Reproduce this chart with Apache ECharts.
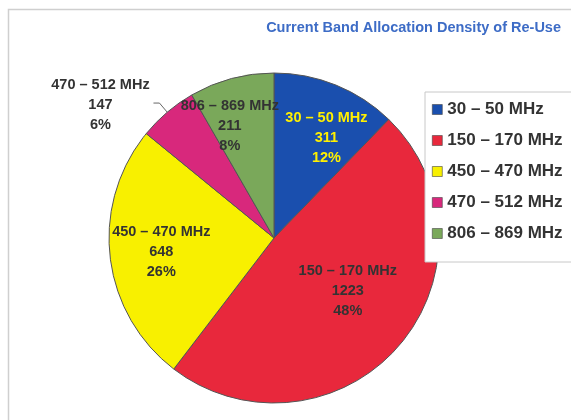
<!DOCTYPE html>
<html><head><meta charset="utf-8">
<script src="https://cdn.jsdelivr.net/npm/echarts@6/dist/echarts.min.js"></script>
<style>html,body{margin:0;padding:0;background:#fff;}#c{width:571px;height:420px;}</style>
</head><body><div id="c"></div>
<script>
const categories = ['30 – 50 MHz', '150 – 170 MHz', '450 – 470 MHz', '470 – 512 MHz', '806 – 869 MHz'];
const values = [311, 1223, 648, 147, 211];
const percents = ['12%', '48%', '26%', '6%', '8%'];
const colors = ['#1a4fae', '#e8283c', '#f8f000', '#d8287c', '#7aa85a'];

const chart = echarts.init(document.getElementById('c'));
const CX = 274, CY = 238, R = 165;
const font = '"Liberation Sans", Arial, sans-serif';
const boxFmt = p => '{w|' + p.name + '}\n{w|' + p.value + '}\n{w|' + p.data.pct + '}';

const mainData = categories.map((n, i) => ({ name: n, value: values[i], itemStyle: { color: colors[i] } }));
const labelData = categories.map((n, i) => {
  const d = { name: n, value: values[i], pct: percents[i] };
  if (i === 0) d.label = { color: '#fff000', offset: [8, 10] };
  if (i === 1) d.label = { offset: [-16, -24] };
  if (i === 2) d.label = { offset: [5, 0] };
  if (i === 3) {
    d.label = { position: 'outside', distanceToLabelLine: 3, offset: [0, 2], formatter: boxFmt };
    d.labelLine = { show: true, length: 12, length2: 6, lineStyle: { color: '#666', width: 1 } };
  }
  if (i === 4) {
    d.label = { position: 'outside', distanceToLabelLine: 3, offset: [0, 1], formatter: boxFmt };
    d.labelLine = { show: false, length: -48, length2: -39 };
  }
  return d;
});

chart.setOption({
  animation: false,
  backgroundColor: '#fff',
  graphic: [{ type: 'rect', shape: { x: 8.5, y: 9.5, width: 600, height: 450 }, style: { fill: 'none', stroke: '#cfcfcf', lineWidth: 1.5 }, silent: true }],
  title: {
    text: 'Current Band Allocation Density of Re-Use',
    right: 5, top: 15,
    textStyle: { color: '#3d6cc6', fontSize: 14.5, fontWeight: 'bold', fontFamily: font }
  },
  legend: {
    orient: 'vertical', left: 425, top: 92,
    padding: [9, 20, 20, 7],
    borderColor: '#c8c8c8', borderWidth: 1, backgroundColor: '#fff',
    itemWidth: 10, itemHeight: 10, itemGap: 14,
    icon: 'rect',
    itemStyle: { borderColor: '#444', borderWidth: 0.6 },
    textStyle: { color: '#333', fontSize: 17, fontWeight: 'bold', fontFamily: font },
    data: categories
  },
  series: [
    {
      type: 'pie', center: [CX, CY], radius: [0, R], startAngle: 90, clockwise: true,
      avoidLabelOverlap: false, silent: true,
      itemStyle: { borderColor: '#555', borderWidth: 1 },
      label: { show: false }, labelLine: { show: false },
      data: mainData
    },
    {
      type: 'pie', center: [CX, CY], radius: [66, R], startAngle: 90, clockwise: true,
      avoidLabelOverlap: false, silent: true, legendHoverLink: false,
      itemStyle: { color: 'rgba(0,0,0,0)', borderWidth: 0 },
      emphasis: { disabled: true },
      labelLine: { show: false },
      label: {
        show: true, position: 'inside',
        color: '#333', fontSize: 14.5, fontWeight: 'bold', fontFamily: font, lineHeight: 20,
        textBorderWidth: 0, overflow: 'none',
        formatter: p => p.name + '\n' + p.value + '\n' + p.data.pct,
        rich: { w: { width: 100, align: 'center', fontSize: 14.5, fontWeight: 'bold', fontFamily: font, lineHeight: 20 } }
      },
      data: labelData
    }
  ]
});
</script></body></html>
